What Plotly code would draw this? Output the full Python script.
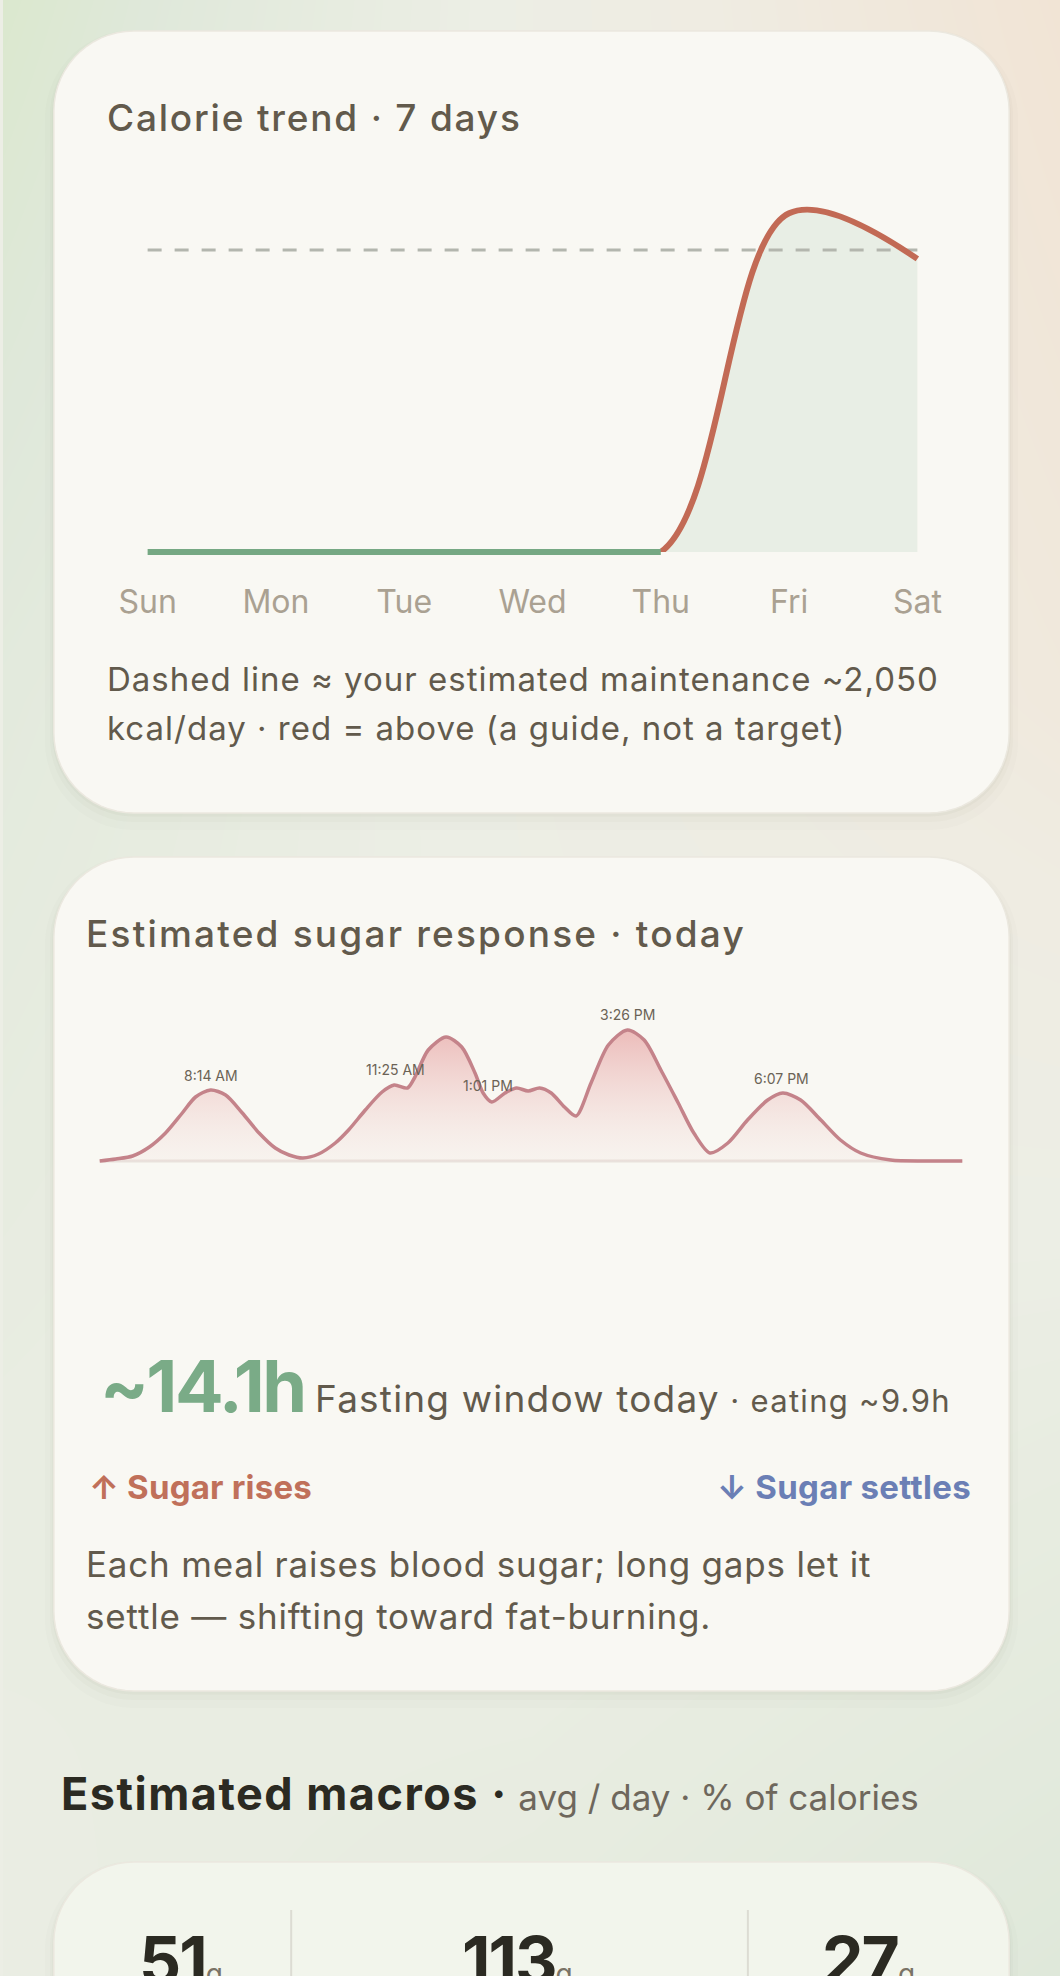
import numpy as np
import plotly.graph_objects as go

W, H = 1060, 1976

# ---------------- data ----------------
days = ["Sun", "Mon", "Tue", "Wed", "Thu", "Fri", "Sat"]
calories = [0, 0, 0, 0, 0, 2300, 1990]
maintenance = 2050

sugar_hours = [6.30, 6.58, 6.87, 7.16, 7.44, 7.73, 7.96, 8.22, 8.48, 8.77,
               9.06, 9.34, 9.58, 9.82, 10.09, 10.38, 10.61, 10.90, 11.19, 11.40,
               11.63, 11.76, 11.99, 12.30, 12.57, 12.80, 12.94, 13.09, 13.32, 13.52,
               13.72, 13.92, 14.12, 14.35, 14.55, 14.81, 15.11, 15.44, 15.73, 16.02,
               16.32, 16.59, 16.87, 17.18, 17.52, 17.87, 18.13, 18.44, 18.79, 19.13,
               19.48, 20.00, 20.60, 21.24]
sugar_rise = [0, 2, 5, 14, 28, 48, 64, 71, 66, 48,
              28, 13, 6, 3, 7, 18, 31, 51, 69, 76,
              73, 84, 111, 124, 114, 88, 68, 59, 68, 73,
              70, 73, 68, 54, 45, 78, 116, 131, 121, 91,
              58, 28, 8, 18, 41, 61, 68, 61, 41, 21,
              8, 1, 0, 0]
meal_labels = ["8:14 AM", "11:25 AM", "1:01 PM", "3:26 PM", "6:07 PM"]
meal_hours = [8.233, 11.417, 13.017, 15.433, 18.117]
meal_rise = [70, 76, 60, 131, 67]

fasting_h = "~14.1h"
eating_h = "~9.9h"

macro_grams = [51, 113, 27]

# ---------------- helpers ----------------
FONT = "Inter, Open Sans, sans-serif"
TXT = "#625a4c"


def dx(a, b):
    return [a / W, b / W]


def dy(top, bottom):
    return [1 - bottom / H, 1 - top / H]


def rrect(x0, y0, x1, y1, r, n=16):
    t = np.linspace(0, np.pi / 2, n)
    xs, ys = [], []
    for cx, cy, a0 in [(x0 + r, y0 + r, np.pi), (x1 - r, y0 + r, 1.5 * np.pi),
                       (x1 - r, y1 - r, 0.0), (x0 + r, y1 - r, 0.5 * np.pi)]:
        a = a0 + t
        xs += list(cx + r * np.cos(a))
        ys += list(cy + r * np.sin(a))
    xs.append(xs[0])
    ys.append(ys[0])
    return xs, ys


def ls(s, px):
    return f"<span style='letter-spacing:{px}px'>{s}</span>"


fig = go.Figure()

# ---------------- background (axis x/y in pixel space) ----------------
fig.add_trace(go.Heatmap(
    x=[0, 530, 1060], y=[0, 700, 1400, 1976],
    z=[[0.0, 0.55, 1.0],
       [0.25, 0.55, 0.82],
       [0.40, 0.50, 0.40],
       [0.45, 0.32, 0.15]],
    zmin=0, zmax=1, zsmooth="best", showscale=False, hoverinfo="skip",
    colorscale=[[0, "#dbe8ce"], [0.15, "#dfe8da"], [0.35, "#e7ece0"],
                [0.5, "#eceee5"], [0.7, "#efece2"], [1, "#f1e4d5"]],
    xaxis="x", yaxis="y"))

cards = [(51, 31, 1009, 813, "#f9f8f3"), (51, 857, 1009, 1691, "#f9f8f3"),
         (51, 1862, 1009, 2100, "#f2f5ec")]
for x0, y0, x1, y1, col in cards:
    for grow, off, alpha in [(9, 8, 0.02), (4, 5, 0.028), (1.5, 2, 0.04)]:
        sx, sy = rrect(x0 - grow, y0 - grow + off, x1 + grow, y1 + grow + off, 80 + grow)
        fig.add_trace(go.Scatter(x=sx, y=sy, mode="lines", fill="toself",
                                 fillcolor=f"rgba(110,100,80,{alpha})",
                                 line=dict(width=0), hoverinfo="skip", showlegend=False,
                                 xaxis="x", yaxis="y"))
    sx, sy = rrect(x0, y0, x1, y1, 80)
    fig.add_trace(go.Scatter(x=sx, y=sy, mode="lines", fill="toself", fillcolor=col,
                             line=dict(color="#ebe8df", width=1.5), hoverinfo="skip",
                             showlegend=False, xaxis="x", yaxis="y"))

# macro card dividers
for xv in [289, 747]:
    fig.add_trace(go.Scatter(x=[xv, xv], y=[1910, 1990], mode="lines",
                             line=dict(color="#dcdcd3", width=2), hoverinfo="skip",
                             showlegend=False, xaxis="x", yaxis="y"))

# ---------------- calorie chart ----------------
day_idx = list(range(len(days)))
SM = 1.0
# x2/y2: range starts at 0 so the curve is clipped at the baseline
fig.add_trace(go.Scatter(x=day_idx[3:], y=calories[3:], mode="none", fill="tozeroy",
                         fillcolor="#e8eee5", line=dict(shape="spline", smoothing=SM),
                         hoverinfo="skip", showlegend=False, xaxis="x2", yaxis="y2"))
fig.add_trace(go.Scatter(x=[day_idx[0], day_idx[-1]], y=[maintenance, maintenance], mode="lines",
                         line=dict(color="#b3b6ae", width=3, dash="14px,13px"),
                         hoverinfo="skip", showlegend=False, xaxis="x2", yaxis="y2"))
fig.add_trace(go.Scatter(x=day_idx[3:], y=calories[3:], mode="lines",
                         line=dict(color="#c26a55", width=6, shape="spline", smoothing=SM),
                         hoverinfo="skip", showlegend=False, xaxis="x2", yaxis="y2"))
# x4/y4: same scale, green flat segment + day labels
fig.add_trace(go.Scatter(x=day_idx[:5], y=calories[:5], mode="lines",
                         line=dict(color="#76a883", width=6),
                         hoverinfo="skip", showlegend=False, xaxis="x4", yaxis="y4"))

# ---------------- sugar chart (x3/y3) ----------------
fig.add_trace(go.Scatter(x=[sugar_hours[0], sugar_hours[-1]], y=[0, 0], mode="lines",
                         line=dict(color="#e9e1dc", width=3),
                         hoverinfo="skip", showlegend=False, xaxis="x3", yaxis="y3"))
fig.add_trace(go.Scatter(x=sugar_hours, y=sugar_rise, mode="lines",
                         line=dict(color="#c4838a", width=3.5, shape="spline", smoothing=0.8),
                         fill="tozeroy",
                         fillgradient=dict(type="vertical", start=0, stop=131,
                                           colorscale=[[0, "rgba(240,215,212,0.15)"],
                                                       [1, "rgba(228,150,150,0.62)"]]),
                         hoverinfo="skip", showlegend=False, xaxis="x3", yaxis="y3"))

# ---------------- layout ----------------
hidden = dict(visible=False, showgrid=False, zeroline=False, fixedrange=True)
fig.update_layout(
    width=W, height=H, margin=dict(l=0, r=0, t=0, b=0),
    paper_bgcolor="#eceee5", plot_bgcolor="rgba(0,0,0,0)",
    showlegend=False,
    xaxis=dict(hidden, domain=[0, 1], range=[0, W]),
    yaxis=dict(hidden, domain=[0, 1], range=[H, 0]),
    xaxis2=dict(hidden, domain=dx(119.3, 942.7), range=[-0.2, 6.2], anchor="y2"),
    yaxis2=dict(hidden, domain=dy(169, 552), range=[0, 2600], anchor="x2"),
    xaxis4=dict(domain=dx(119.3, 942.7), range=[-0.2, 6.2], anchor="y4",
                tickvals=day_idx, ticktext=days, showgrid=False, zeroline=False,
                showline=False, ticks="", ticklabelstandoff=19,
                tickfont=dict(family=FONT, size=32, color="#aaa192")),
    yaxis4=dict(hidden, domain=dy(169, 560.8), range=[-60, 2600], anchor="x4"),
    xaxis3=dict(hidden, domain=dx(91.2, 967.8), range=[6.2, 21.34], anchor="y3"),
    yaxis3=dict(hidden, domain=dy(1021, 1167), range=[-6, 140], anchor="x3"),
    font=dict(family=FONT, color=TXT),
)

ann = []


def text(x, y, s, size, color=TXT, weight=400, xanchor="left", yanchor="middle"):
    ann.append(dict(x=x, y=y, xref="x", yref="y", text=s, showarrow=False,
                    xanchor=xanchor, yanchor=yanchor,
                    font=dict(family=FONT, size=size, color=color, weight=weight)))


text(102, 117, ls("Calorie trend · 7 days", 1.8), 37, weight=500)
text(102, 679, ls("Dashed line ≈ your estimated maintenance ~2,050", 1.0), 33)
text(102, 728, ls("kcal/day · red = above (a guide, not a target)", 1.0), 33)

text(81, 933, ls("Estimated sugar response · today", 2.2), 37, weight=500)
for lab, hx, rv in zip(meal_labels, meal_hours, meal_rise):
    ann.append(dict(x=hx, y=rv, xref="x3", yref="y3", text=lab, showarrow=False,
                    yshift=16, font=dict(family=FONT, size=14, color="#6b6356")))

text(95, 1385,
     f"<span style='font-size:72px;color:#7aab87;font-weight:700;letter-spacing:-2.5px'>{fasting_h}</span> "
     f"<span style='font-size:37px;letter-spacing:1.2px'>Fasting window today</span> "
     f"<span style='font-size:31px;letter-spacing:1.3px'>· eating {eating_h}</span>", 37)
text(84, 1487, ls("↑ Sugar rises", 0.2), 33, color="#c0705a", weight=700)
text(973, 1487, ls("↓ Sugar settles", 0.3), 33, color="#6b7fb5", weight=700, xanchor="right")
text(81, 1564, ls("Each meal raises blood sugar; long gaps let it", 0.8), 35)
text(81, 1616, ls("settle — shifting toward fat-burning.", 0.8), 35)

text(56, 1793,
     f"<span style='letter-spacing:1.5px'><b>Estimated macros ·</b></span> "
     "<span style='font-size:35px;color:#6e675c;font-weight:400'>avg / day · % of calories</span>",
     45, color="#2b2a22", weight=700)

for cx, g in zip([178, 516, 868], macro_grams):
    ann.append(dict(x=cx, y=1918, xref="x", yref="y", showarrow=False,
                    xanchor="center", yanchor="top",
                    text=f"<span style='letter-spacing:-2px'>{g}</span>"
                         f"<span style='font-size:28px;color:#7a7366;font-weight:400'>g</span>",
                    font=dict(family=FONT, size=66, color="#2b2a22", weight=700)))

fig.update_layout(annotations=ann)
fig.write_html("out.html")
